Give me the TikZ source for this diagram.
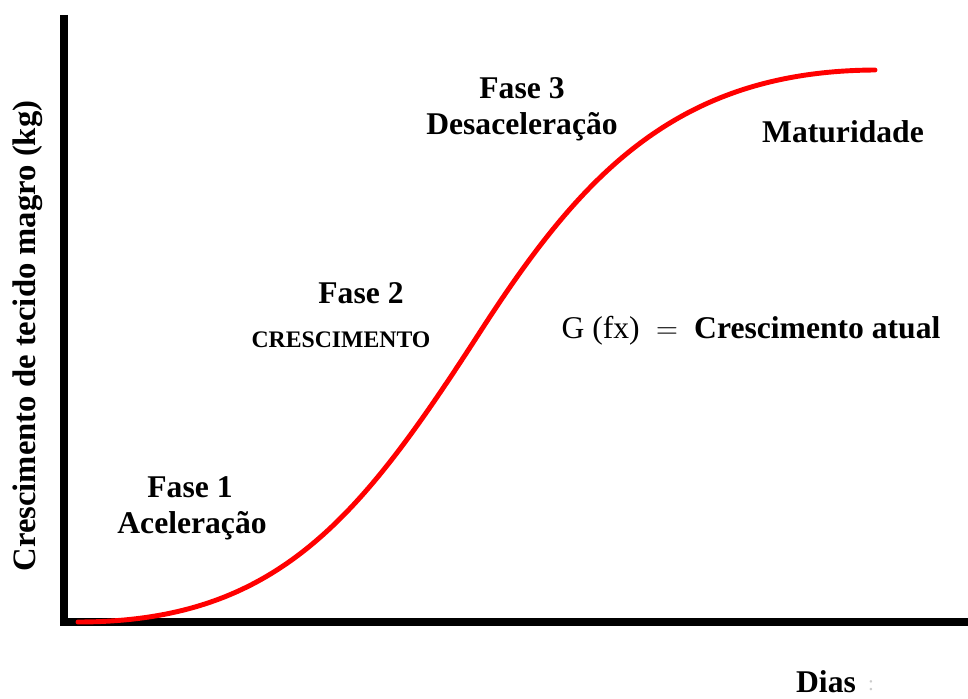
\documentclass[tikz,border=0pt]{standalone}
\usepackage{fontspec}
\setmainfont{Liberation Serif}
\usepackage{xcolor}
\usepackage{tikz}

\tikzset{
	lbl/.style={font=\fontsize{18}{20}\selectfont\bfseries, anchor=base, inner sep=0pt},
	smalllbl/.style={font=\fontsize{13.5}{15}\selectfont\bfseries, anchor=base, inner sep=0pt},
}

\begin{document}
\begin{tikzpicture}[x=0.02cm,y=0.02cm]
	\useasboundingbox (0,0) rectangle (968,698);
	
	% axes
	\coordinate (top) at (64,683);
	\coordinate (origin) at (64,76);
	\coordinate (right) at (968,76);
	\draw[line width=4pt,miter limit=10] (top) -- (origin) -- (right);
	\node[lbl,rotate=90,font=\fontsize{18.6}{20}\selectfont\bfseries] (ylabel) at (35,362) {Crescimento de tecido magro (kg)};
	\node[lbl] (dias) at (826,6) {Dias};
	\node[anchor=base,inner sep=0pt,gray!40,font=\fontsize{12}{14}\selectfont] (diascolon) at (871,8) {:};
	
	% growth curve
	\coordinate (start) at (78,76);
	\coordinate (infl) at (480,366);
	\coordinate (stop) at (875,628);
	\draw[line width=2.8pt,red,line cap=round] (start) .. controls (278,76) and (360,180) .. (infl)
		.. controls (580,521) and (675,627) .. (stop);
	
	% phases
	\node[lbl] (fase1) at (190,201) {Fase 1};
	\node[lbl] (acel) at (192,165) {Aceleração};
	\node[lbl] (fase2) at (361,395) {Fase 2};
	\node[smalllbl] (cresc) at (341,351) {CRESCIMENTO};
	\node[lbl] (fase3) at (522,600) {Fase 3};
	\node[lbl] (desacel) at (522,563) {Desaceleração};
	\node[lbl] (matur) at (843,556) {Maturidade};
	\node[lbl] (gfx) at (751,360) {\mdseries G (fx) ${}={}$ \bfseries Crescimento atual};
\end{tikzpicture}
\end{document}
